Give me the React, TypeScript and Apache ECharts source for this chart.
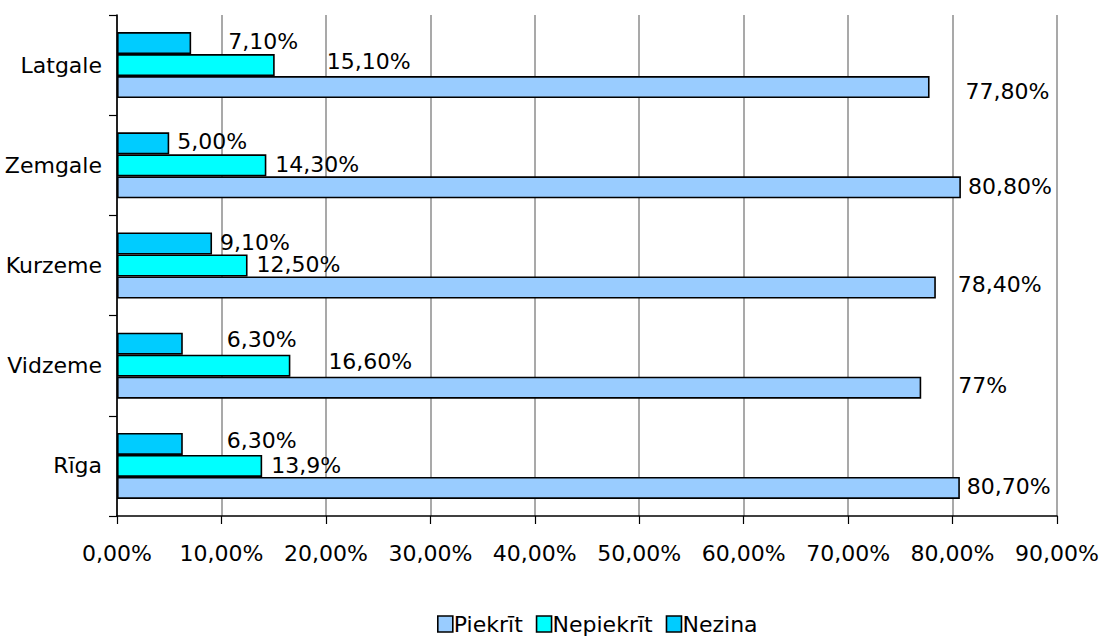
import React, { useEffect, useRef } from "react";
import * as echarts from "echarts";

const CATEGORIES = ["Rīga", "Vidzeme", "Kurzeme", "Zemgale", "Latgale"];
const SERIES_NAMES = ["Piekrīt", "Nepiekrīt", "Nezina"];
const PIEKRIT = [80.7, 77, 78.4, 80.8, 77.8];
const NEPIEKRIT = [13.9, 16.6, 12.5, 14.3, 15.1];
const NEZINA = [6.3, 6.3, 9.1, 5.0, 7.1];
const PIEKRIT_LABELS = ["80,70%", "77%", "78,40%", "80,80%", "77,80%"];
const NEPIEKRIT_LABELS = ["13,9%", "16,60%", "12,50%", "14,30%", "15,10%"];
const NEZINA_LABELS = ["6,30%", "6,30%", "9,10%", "5,00%", "7,10%"];
const X_TICK_LABELS = ["0,00%", "10,00%", "20,00%", "30,00%", "40,00%", "50,00%", "60,00%", "70,00%", "80,00%", "90,00%"];

// label placement tweaks (layout only)
const PIEKRIT_OFFSETS = [[7, -1], [37, -2], [22, -3], [7, -1], [36, 4]];
const NEPIEKRIT_OFFSETS = [[9, 0], [38, -4], [9, -1], [9, -1], [52, -4]];
const NEZINA_OFFSETS = [[44, -3], [44, -4], [8, -1], [8, -2], [37, -2]];

const FONT = "DejaVu Sans";
const FS = 22;

function makeSeries(name: string, values: number[], labels: string[], offsets: number[][], color: string) {
  return {
    name,
    type: "bar",
    barWidth: 22,
    barGap: "0%",
    itemStyle: { color, borderColor: "#000", borderWidth: 1.6 },
    data: values.map((v, i) => ({
      value: v,
      label: { offset: offsets[i] },
    })),
    label: {
      show: true,
      position: "right",
      distance: 0,
      color: "#000",
      fontFamily: FONT,
      fontSize: FS,
      formatter: (p: any) => labels[p.dataIndex],
    },
  };
}

export default function App() {
  const ref = useRef<HTMLDivElement>(null);
  useEffect(() => {
    if (!ref.current) return;
    const chart = echarts.init(ref.current, null, { renderer: "svg" });
    chart.setOption({
      animation: false,
      backgroundColor: "#fff",
      textStyle: { fontFamily: FONT },
      grid: { left: 117, right: 49, top: 15, bottom: 121, containLabel: false },
      xAxis: {
        type: "value",
        min: 0,
        max: 90,
        interval: 10,
        axisLine: { show: true, lineStyle: { color: "#000", width: 1.6 } },
        axisTick: { show: true, length: 8, lineStyle: { color: "#000", width: 1.2 } },
        axisLabel: {
          margin: 26,
          color: "#000",
          fontFamily: FONT,
          fontSize: FS,
          formatter: (v: number) => X_TICK_LABELS[Math.round(v / 10)],
        },
        splitLine: { show: true, lineStyle: { color: "#8c8c8c", width: 1.5 } },
      },
      yAxis: {
        type: "category",
        data: CATEGORIES,
        axisLine: { show: true, lineStyle: { color: "#000", width: 1.6 } },
        axisTick: { show: true, length: 8, lineStyle: { color: "#000", width: 1.2 } },
        axisLabel: { margin: 15, color: "#000", fontFamily: FONT, fontSize: FS },
        splitLine: { show: false },
      },
      legend: {
        left: 432,
        top: 608,
        itemWidth: 15,
        itemHeight: 16,
        itemGap: 13,
        icon: "rect",
        textStyle: { color: "#000", fontFamily: FONT, fontSize: FS, padding: [4, 0, 0, -4] },
        data: SERIES_NAMES.map((n) => ({ name: n, itemStyle: { borderColor: "#000", borderWidth: 1.6 } })),
      },
      series: [
        makeSeries(SERIES_NAMES[2], NEZINA, NEZINA_LABELS, NEZINA_OFFSETS, "#00ccff"),
        makeSeries(SERIES_NAMES[1], NEPIEKRIT, NEPIEKRIT_LABELS, NEPIEKRIT_OFFSETS, "#00ffff"),
        makeSeries(SERIES_NAMES[0], PIEKRIT, PIEKRIT_LABELS, PIEKRIT_OFFSETS, "#99ccff"),
      ],
    });
    return () => chart.dispose();
  }, []);
  return (
    <div
      ref={ref}
      style={{ position: "absolute", left: 0, top: 0, width: 1106, height: 637 }}
    />
  );
}
